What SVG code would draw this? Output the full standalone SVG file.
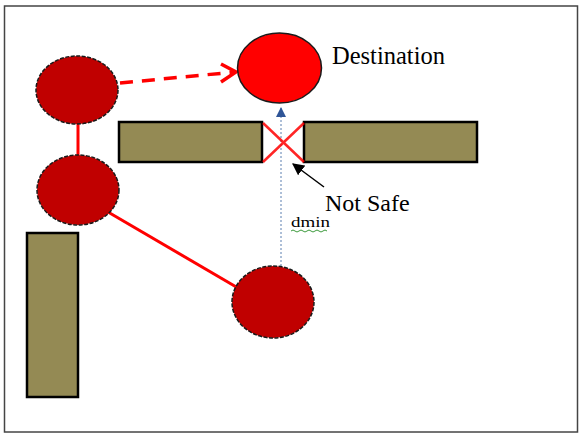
<svg xmlns="http://www.w3.org/2000/svg" width="583" height="438" viewBox="0 0 583 438">
<style>
.node{fill:#C00000;stroke:#1a1a1a;stroke-width:1.5;stroke-dasharray:4 1.5}
.dest{fill:#FF0000;stroke:#1a1a1a;stroke-width:1.5}
.wall{fill:#948A54;stroke:#000;stroke-width:2.5}
.lbl{font-family:"Liberation Serif",serif;fill:#000}
</style>
<defs>
<marker id="bluehead" viewBox="0 0 10 10" refX="9" refY="5" markerWidth="10" markerHeight="10" orient="auto" markerUnits="strokeWidth">
<path d="M0,0 L10,5 L0,10 Z" fill="#2F5597"/>
</marker>
<marker id="blackhead" viewBox="0 0 10 10" refX="9" refY="5" markerWidth="8" markerHeight="8" orient="auto" markerUnits="strokeWidth">
<path d="M0,0 L10,5 L0,10 Z" fill="#000"/>
</marker>
</defs>
<rect x="0" y="0" width="583" height="438" fill="#fff"/>
<rect x="4.5" y="6" width="573" height="426" fill="#fff" stroke="#444" stroke-width="1.5"/>

<g id="walls">
<rect class="wall" x="119" y="122" width="143" height="40"/>
<rect class="wall" x="304" y="122" width="173" height="40"/>
<rect class="wall" x="27" y="233" width="51" height="164"/>
</g>

<g id="connectors">
<line x1="78" y1="124" x2="78" y2="156" stroke="#FF0000" stroke-width="3"/>
<line x1="108" y1="212" x2="238" y2="288" stroke="#FF0000" stroke-width="3"/>
<line x1="120" y1="83" x2="235" y2="72" stroke="#FF0000" stroke-width="3.5" stroke-dasharray="13 9"/>
<path d="M221,64 L236,72 L221,82" fill="none" stroke="#FF0000" stroke-width="3.5" stroke-linejoin="miter"/>
<line x1="281" y1="266" x2="281" y2="108" stroke="#5B7FB0" stroke-width="1" stroke-dasharray="2 2" marker-end="url(#bluehead)"/>
<line x1="324" y1="187" x2="293" y2="164" stroke="#000" stroke-width="1.5" marker-end="url(#blackhead)"/>
<g stroke="#FF0000" stroke-width="2.5" opacity="0.85">
<line x1="263" y1="123" x2="304" y2="162"/>
<line x1="263" y1="162" x2="304" y2="123"/>
</g>
</g>

<g id="n1"><ellipse class="node" cx="77" cy="90" rx="41" ry="34"/></g>
<g id="n2"><ellipse class="node" cx="78" cy="190" rx="41" ry="35"/></g>
<g id="n3"><ellipse class="node" cx="273" cy="302" rx="41" ry="36"/></g>
<g id="dest"><ellipse class="dest" cx="279.5" cy="68" rx="42" ry="35"/></g>

<g id="labels">
<text class="lbl" x="332" y="64" font-size="24.5">Destination</text>
<text class="lbl" x="325" y="211" font-size="24">Not Safe</text>
<text class="lbl" x="291" y="227" font-size="15" textLength="39" lengthAdjust="spacingAndGlyphs">dmin</text>
<path d="M291,231 q2,-2 4,0 t4,0 t4,0 t4,0 t4,0 t4,0 t4,0 t4,0 t4,0" fill="none" stroke="#3C9A3C" stroke-width="1"/>
</g>
</svg>
